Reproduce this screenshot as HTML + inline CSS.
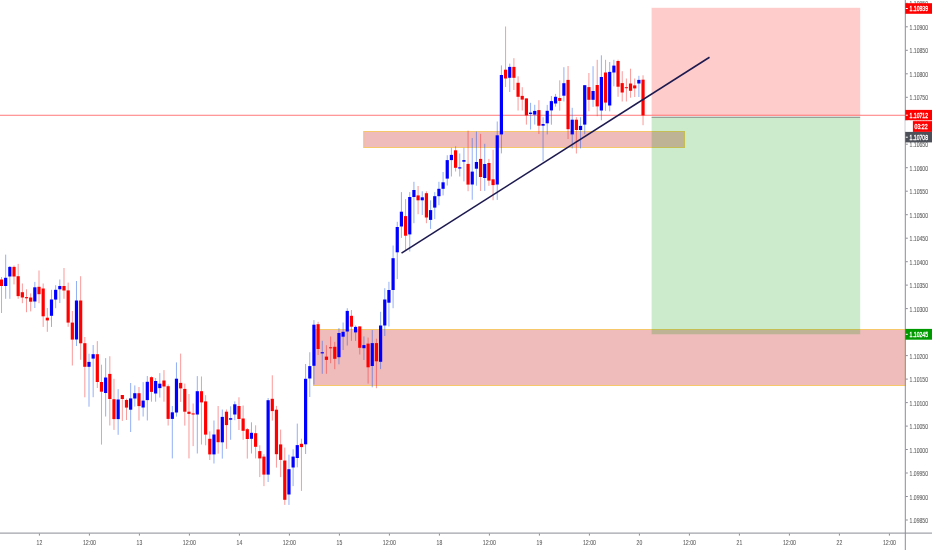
<!DOCTYPE html><html><head><meta charset="utf-8"><style>html,body{margin:0;padding:0;background:#fff;width:932px;height:550px;overflow:hidden}svg{display:block;will-change:transform}text{font-family:"Liberation Sans",sans-serif;stroke-width:0.12px}</style></head><body>
<svg width="932" height="550" viewBox="0 0 932 550">
<rect x="0" y="0" width="932" height="550" fill="#fff"/>
<rect x="313.5" y="329.5" width="591.8" height="56" fill="rgba(200,20,20,0.29)" stroke="#f7c86a" stroke-width="1"/>
<rect x="363.7" y="131.5" width="320.8" height="16" fill="rgba(200,20,20,0.29)" stroke="#f7c86a" stroke-width="1"/>
<rect x="651.6" y="7.8" width="208.6" height="107.6" fill="rgba(255,0,0,0.2)"/>
<rect x="651.6" y="117.8" width="208.6" height="216.5" fill="rgba(0,150,0,0.2)"/>
<rect x="651.6" y="116.7" width="208.6" height="1.1" fill="#7f8a80"/>
<rect x="0" y="114.7" width="905.3" height="1.3" fill="rgba(255,50,50,0.5)"/>
<rect x="1.01" y="277.0" width="1" height="36.0" fill="rgba(245,30,30,0.45)"/>
<rect x="-0.09" y="279.5" width="3.2" height="6.5" fill="#ff0000"/>
<rect x="5.17" y="254.6" width="1" height="44.2" fill="rgba(30,90,235,0.48)"/>
<rect x="4.07" y="277.8" width="3.2" height="8.2" fill="#0000ff"/>
<rect x="9.34" y="266.0" width="1" height="32.8" fill="rgba(30,90,235,0.48)"/>
<rect x="8.24" y="266.9" width="3.2" height="9.6" fill="#0000ff"/>
<rect x="13.51" y="265.5" width="1" height="18.9" fill="rgba(245,30,30,0.45)"/>
<rect x="12.41" y="266.9" width="3.2" height="9.6" fill="#ff0000"/>
<rect x="17.67" y="263.9" width="1" height="34.9" fill="rgba(245,30,30,0.45)"/>
<rect x="16.57" y="276.2" width="3.2" height="19.9" fill="#ff0000"/>
<rect x="21.84" y="283.5" width="1" height="19.7" fill="rgba(245,30,30,0.45)"/>
<rect x="20.74" y="292.2" width="3.2" height="5.3" fill="#ff0000"/>
<rect x="26.00" y="289.3" width="1" height="22.9" fill="rgba(245,30,30,0.45)"/>
<rect x="24.90" y="297.1" width="3.2" height="1.2" fill="#ff0000"/>
<rect x="30.17" y="293.4" width="1" height="18.0" fill="rgba(245,30,30,0.45)"/>
<rect x="29.07" y="297.5" width="3.2" height="4.2" fill="#ff0000"/>
<rect x="34.33" y="281.9" width="1" height="26.1" fill="rgba(30,90,235,0.48)"/>
<rect x="33.23" y="287.3" width="3.2" height="14.2" fill="#0000ff"/>
<rect x="38.50" y="270.5" width="1" height="32.7" fill="rgba(245,30,30,0.45)"/>
<rect x="37.40" y="286.8" width="3.2" height="7.4" fill="#ff0000"/>
<rect x="42.67" y="283.5" width="1" height="43.4" fill="rgba(245,30,30,0.45)"/>
<rect x="41.57" y="288.5" width="3.2" height="27.8" fill="#ff0000"/>
<rect x="46.83" y="308.0" width="1" height="23.8" fill="rgba(245,30,30,0.45)"/>
<rect x="45.73" y="317.7" width="3.2" height="2.7" fill="#ff0000"/>
<rect x="51.00" y="289.8" width="1" height="37.1" fill="rgba(30,90,235,0.48)"/>
<rect x="49.90" y="299.5" width="3.2" height="16.3" fill="#0000ff"/>
<rect x="55.16" y="285.2" width="1" height="23.0" fill="rgba(30,90,235,0.48)"/>
<rect x="54.06" y="289.8" width="3.2" height="9.8" fill="#0000ff"/>
<rect x="59.33" y="279.5" width="1" height="23.5" fill="rgba(30,90,235,0.48)"/>
<rect x="58.23" y="286.0" width="3.2" height="3.3" fill="#0000ff"/>
<rect x="63.49" y="268.0" width="1" height="30.8" fill="rgba(245,30,30,0.45)"/>
<rect x="62.39" y="286.0" width="3.2" height="4.5" fill="#ff0000"/>
<rect x="67.66" y="282.6" width="1" height="44.2" fill="rgba(245,30,30,0.45)"/>
<rect x="66.56" y="290.4" width="3.2" height="32.2" fill="#ff0000"/>
<rect x="71.83" y="311.0" width="1" height="54.5" fill="rgba(245,30,30,0.45)"/>
<rect x="70.73" y="322.6" width="3.2" height="17.0" fill="#ff0000"/>
<rect x="75.99" y="281.0" width="1" height="65.0" fill="rgba(30,90,235,0.48)"/>
<rect x="74.89" y="300.5" width="3.2" height="39.0" fill="#0000ff"/>
<rect x="80.16" y="276.2" width="1" height="83.6" fill="rgba(245,30,30,0.45)"/>
<rect x="79.06" y="300.5" width="3.2" height="42.8" fill="#ff0000"/>
<rect x="84.32" y="337.0" width="1" height="60.3" fill="rgba(245,30,30,0.45)"/>
<rect x="83.22" y="343.2" width="3.2" height="23.6" fill="#ff0000"/>
<rect x="88.49" y="353.7" width="1" height="53.0" fill="rgba(30,90,235,0.48)"/>
<rect x="87.39" y="361.9" width="3.2" height="4.9" fill="#0000ff"/>
<rect x="92.66" y="345.0" width="1" height="52.2" fill="rgba(30,90,235,0.48)"/>
<rect x="91.56" y="354.2" width="3.2" height="4.4" fill="#0000ff"/>
<rect x="96.82" y="341.1" width="1" height="46.9" fill="rgba(245,30,30,0.45)"/>
<rect x="95.72" y="354.2" width="3.2" height="27.8" fill="#ff0000"/>
<rect x="100.99" y="364.7" width="1" height="79.9" fill="rgba(245,30,30,0.45)"/>
<rect x="99.89" y="382.0" width="3.2" height="9.7" fill="#ff0000"/>
<rect x="105.15" y="358.1" width="1" height="58.4" fill="rgba(30,90,235,0.48)"/>
<rect x="104.05" y="377.5" width="3.2" height="15.5" fill="#0000ff"/>
<rect x="109.32" y="356.2" width="1" height="69.3" fill="rgba(245,30,30,0.45)"/>
<rect x="108.22" y="373.9" width="3.2" height="25.1" fill="#ff0000"/>
<rect x="113.48" y="378.8" width="1" height="51.1" fill="rgba(245,30,30,0.45)"/>
<rect x="112.38" y="399.2" width="3.2" height="19.9" fill="#ff0000"/>
<rect x="117.65" y="389.1" width="1" height="45.7" fill="rgba(30,90,235,0.48)"/>
<rect x="116.55" y="399.5" width="3.2" height="19.6" fill="#0000ff"/>
<rect x="121.82" y="395.0" width="1" height="25.9" fill="rgba(245,30,30,0.45)"/>
<rect x="120.72" y="395.0" width="3.2" height="4.0" fill="#ff0000"/>
<rect x="125.98" y="398.7" width="1" height="21.3" fill="rgba(245,30,30,0.45)"/>
<rect x="124.88" y="400.0" width="3.2" height="7.6" fill="#ff0000"/>
<rect x="130.15" y="383.0" width="1" height="49.0" fill="rgba(30,90,235,0.48)"/>
<rect x="129.05" y="398.4" width="3.2" height="11.3" fill="#0000ff"/>
<rect x="134.31" y="385.4" width="1" height="21.2" fill="rgba(30,90,235,0.48)"/>
<rect x="133.21" y="393.2" width="3.2" height="5.3" fill="#0000ff"/>
<rect x="138.48" y="387.0" width="1" height="33.5" fill="rgba(245,30,30,0.45)"/>
<rect x="137.38" y="393.2" width="3.2" height="12.9" fill="#ff0000"/>
<rect x="142.64" y="382.1" width="1" height="34.4" fill="rgba(30,90,235,0.48)"/>
<rect x="141.54" y="400.6" width="3.2" height="6.9" fill="#0000ff"/>
<rect x="146.81" y="376.0" width="1" height="44.5" fill="rgba(30,90,235,0.48)"/>
<rect x="145.71" y="381.8" width="3.2" height="18.3" fill="#0000ff"/>
<rect x="150.98" y="376.4" width="1" height="25.3" fill="rgba(245,30,30,0.45)"/>
<rect x="149.88" y="377.2" width="3.2" height="14.7" fill="#ff0000"/>
<rect x="155.14" y="378.0" width="1" height="23.7" fill="rgba(30,90,235,0.48)"/>
<rect x="154.04" y="381.0" width="3.2" height="12.5" fill="#0000ff"/>
<rect x="159.31" y="373.1" width="1" height="24.5" fill="rgba(30,90,235,0.48)"/>
<rect x="158.21" y="383.7" width="3.2" height="4.4" fill="#0000ff"/>
<rect x="163.47" y="370.1" width="1" height="31.6" fill="rgba(245,30,30,0.45)"/>
<rect x="162.37" y="380.5" width="3.2" height="6.0" fill="#ff0000"/>
<rect x="167.64" y="384.5" width="1" height="41.0" fill="rgba(245,30,30,0.45)"/>
<rect x="166.54" y="386.2" width="3.2" height="32.7" fill="#ff0000"/>
<rect x="171.81" y="406.0" width="1" height="52.4" fill="rgba(30,90,235,0.48)"/>
<rect x="170.71" y="412.3" width="3.2" height="6.6" fill="#0000ff"/>
<rect x="175.97" y="362.4" width="1" height="54.2" fill="rgba(30,90,235,0.48)"/>
<rect x="174.87" y="378.7" width="3.2" height="33.8" fill="#0000ff"/>
<rect x="180.14" y="353.6" width="1" height="48.3" fill="rgba(245,30,30,0.45)"/>
<rect x="179.04" y="382.9" width="3.2" height="5.5" fill="#ff0000"/>
<rect x="184.30" y="383.6" width="1" height="42.0" fill="rgba(245,30,30,0.45)"/>
<rect x="183.20" y="388.9" width="3.2" height="22.8" fill="#ff0000"/>
<rect x="188.47" y="394.0" width="1" height="64.4" fill="rgba(245,30,30,0.45)"/>
<rect x="187.37" y="411.7" width="3.2" height="2.2" fill="#ff0000"/>
<rect x="192.63" y="403.5" width="1" height="42.6" fill="rgba(245,30,30,0.45)"/>
<rect x="191.53" y="413.4" width="3.2" height="1.1" fill="#ff0000"/>
<rect x="196.80" y="376.1" width="1" height="77.4" fill="rgba(30,90,235,0.48)"/>
<rect x="195.70" y="391.2" width="3.2" height="23.3" fill="#0000ff"/>
<rect x="200.97" y="376.5" width="1" height="68.0" fill="rgba(245,30,30,0.45)"/>
<rect x="199.87" y="391.2" width="3.2" height="11.2" fill="#ff0000"/>
<rect x="205.13" y="395.2" width="1" height="50.1" fill="rgba(245,30,30,0.45)"/>
<rect x="204.03" y="401.4" width="3.2" height="33.2" fill="#ff0000"/>
<rect x="209.30" y="431.4" width="1" height="28.6" fill="rgba(245,30,30,0.45)"/>
<rect x="208.20" y="438.8" width="3.2" height="15.6" fill="#ff0000"/>
<rect x="213.46" y="420.5" width="1" height="43.0" fill="rgba(30,90,235,0.48)"/>
<rect x="212.36" y="434.5" width="3.2" height="19.9" fill="#0000ff"/>
<rect x="217.63" y="406.0" width="1" height="47.7" fill="rgba(245,30,30,0.45)"/>
<rect x="216.53" y="429.5" width="3.2" height="12.7" fill="#ff0000"/>
<rect x="221.80" y="409.5" width="1" height="49.1" fill="rgba(30,90,235,0.48)"/>
<rect x="220.70" y="416.9" width="3.2" height="25.4" fill="#0000ff"/>
<rect x="225.96" y="409.5" width="1" height="39.3" fill="rgba(245,30,30,0.45)"/>
<rect x="224.86" y="411.7" width="3.2" height="13.4" fill="#ff0000"/>
<rect x="230.13" y="406.3" width="1" height="33.5" fill="rgba(30,90,235,0.48)"/>
<rect x="229.03" y="418.2" width="3.2" height="1.5" fill="#0000ff"/>
<rect x="234.29" y="401.4" width="1" height="18.8" fill="rgba(30,90,235,0.48)"/>
<rect x="233.19" y="404.3" width="3.2" height="10.2" fill="#0000ff"/>
<rect x="238.46" y="397.3" width="1" height="32.7" fill="rgba(245,30,30,0.45)"/>
<rect x="237.36" y="406.0" width="3.2" height="13.0" fill="#ff0000"/>
<rect x="242.62" y="405.5" width="1" height="34.3" fill="rgba(245,30,30,0.45)"/>
<rect x="241.52" y="418.5" width="3.2" height="12.3" fill="#ff0000"/>
<rect x="246.79" y="428.0" width="1" height="30.6" fill="rgba(245,30,30,0.45)"/>
<rect x="245.69" y="429.2" width="3.2" height="9.8" fill="#ff0000"/>
<rect x="250.96" y="422.3" width="1" height="31.2" fill="rgba(30,90,235,0.48)"/>
<rect x="249.86" y="432.8" width="3.2" height="6.0" fill="#0000ff"/>
<rect x="255.12" y="425.3" width="1" height="33.1" fill="rgba(245,30,30,0.45)"/>
<rect x="254.02" y="433.2" width="3.2" height="13.6" fill="#ff0000"/>
<rect x="259.29" y="445.3" width="1" height="31.8" fill="rgba(245,30,30,0.45)"/>
<rect x="258.19" y="451.1" width="3.2" height="7.3" fill="#ff0000"/>
<rect x="263.45" y="454.2" width="1" height="31.9" fill="rgba(245,30,30,0.45)"/>
<rect x="262.35" y="456.6" width="3.2" height="18.0" fill="#ff0000"/>
<rect x="267.62" y="398.0" width="1" height="84.0" fill="rgba(30,90,235,0.48)"/>
<rect x="266.52" y="400.2" width="3.2" height="74.4" fill="#0000ff"/>
<rect x="271.78" y="375.3" width="1" height="45.3" fill="rgba(245,30,30,0.45)"/>
<rect x="270.68" y="398.8" width="3.2" height="12.3" fill="#ff0000"/>
<rect x="275.95" y="405.9" width="1" height="61.7" fill="rgba(245,30,30,0.45)"/>
<rect x="274.85" y="409.7" width="3.2" height="44.5" fill="#ff0000"/>
<rect x="280.12" y="429.6" width="1" height="47.5" fill="rgba(245,30,30,0.45)"/>
<rect x="279.02" y="444.4" width="3.2" height="15.5" fill="#ff0000"/>
<rect x="284.28" y="447.6" width="1" height="57.3" fill="rgba(245,30,30,0.45)"/>
<rect x="283.18" y="460.5" width="3.2" height="39.3" fill="#ff0000"/>
<rect x="288.45" y="454.7" width="1" height="50.2" fill="rgba(30,90,235,0.48)"/>
<rect x="287.35" y="469.2" width="3.2" height="25.3" fill="#0000ff"/>
<rect x="292.61" y="449.3" width="1" height="36.8" fill="rgba(30,90,235,0.48)"/>
<rect x="291.51" y="456.6" width="3.2" height="10.9" fill="#0000ff"/>
<rect x="296.78" y="423.6" width="1" height="43.7" fill="rgba(30,90,235,0.48)"/>
<rect x="295.68" y="445.1" width="3.2" height="12.9" fill="#0000ff"/>
<rect x="300.95" y="438.7" width="1" height="52.2" fill="rgba(245,30,30,0.45)"/>
<rect x="299.85" y="443.8" width="3.2" height="3.3" fill="#ff0000"/>
<rect x="305.11" y="364.0" width="1" height="90.0" fill="rgba(30,90,235,0.48)"/>
<rect x="304.01" y="378.8" width="3.2" height="65.5" fill="#0000ff"/>
<rect x="309.28" y="352.2" width="1" height="44.8" fill="rgba(30,90,235,0.48)"/>
<rect x="308.18" y="366.1" width="3.2" height="12.4" fill="#0000ff"/>
<rect x="313.44" y="320.1" width="1" height="64.4" fill="rgba(30,90,235,0.48)"/>
<rect x="312.34" y="324.7" width="3.2" height="41.1" fill="#0000ff"/>
<rect x="317.61" y="321.8" width="1" height="33.2" fill="rgba(245,30,30,0.45)"/>
<rect x="316.51" y="324.2" width="3.2" height="24.8" fill="#ff0000"/>
<rect x="321.77" y="340.8" width="1" height="33.0" fill="rgba(30,90,235,0.48)"/>
<rect x="320.67" y="352.2" width="3.2" height="1.2" fill="#0000ff"/>
<rect x="325.94" y="345.2" width="1" height="28.6" fill="rgba(245,30,30,0.45)"/>
<rect x="324.84" y="356.6" width="3.2" height="3.3" fill="#ff0000"/>
<rect x="330.11" y="336.5" width="1" height="26.7" fill="rgba(245,30,30,0.45)"/>
<rect x="329.01" y="347.3" width="3.2" height="1.0" fill="#ff0000"/>
<rect x="334.27" y="341.9" width="1" height="27.3" fill="rgba(245,30,30,0.45)"/>
<rect x="333.17" y="346.8" width="3.2" height="12.0" fill="#ff0000"/>
<rect x="338.44" y="328.0" width="1" height="36.3" fill="rgba(30,90,235,0.48)"/>
<rect x="337.34" y="333.0" width="3.2" height="24.2" fill="#0000ff"/>
<rect x="342.60" y="322.5" width="1" height="27.5" fill="rgba(30,90,235,0.48)"/>
<rect x="341.50" y="331.8" width="3.2" height="4.9" fill="#0000ff"/>
<rect x="346.77" y="308.2" width="1" height="37.3" fill="rgba(30,90,235,0.48)"/>
<rect x="345.67" y="310.9" width="3.2" height="20.6" fill="#0000ff"/>
<rect x="350.94" y="310.0" width="1" height="30.9" fill="rgba(245,30,30,0.45)"/>
<rect x="349.83" y="315.8" width="3.2" height="10.9" fill="#ff0000"/>
<rect x="355.10" y="325.5" width="1" height="15.4" fill="rgba(30,90,235,0.48)"/>
<rect x="354.00" y="326.9" width="3.2" height="5.5" fill="#0000ff"/>
<rect x="359.27" y="326.4" width="1" height="28.1" fill="rgba(245,30,30,0.45)"/>
<rect x="358.17" y="326.4" width="3.2" height="21.4" fill="#ff0000"/>
<rect x="363.43" y="336.4" width="1" height="23.6" fill="rgba(30,90,235,0.48)"/>
<rect x="362.33" y="345.1" width="3.2" height="3.1" fill="#0000ff"/>
<rect x="367.60" y="337.6" width="1" height="46.0" fill="rgba(245,30,30,0.45)"/>
<rect x="366.50" y="343.6" width="3.2" height="23.7" fill="#ff0000"/>
<rect x="371.76" y="330.0" width="1" height="57.3" fill="rgba(30,90,235,0.48)"/>
<rect x="370.66" y="343.1" width="3.2" height="22.9" fill="#0000ff"/>
<rect x="375.93" y="338.7" width="1" height="49.5" fill="rgba(245,30,30,0.45)"/>
<rect x="374.83" y="343.1" width="3.2" height="18.2" fill="#ff0000"/>
<rect x="380.10" y="311.8" width="1" height="57.3" fill="rgba(30,90,235,0.48)"/>
<rect x="379.00" y="325.5" width="3.2" height="36.3" fill="#0000ff"/>
<rect x="384.26" y="288.2" width="1" height="47.8" fill="rgba(30,90,235,0.48)"/>
<rect x="383.16" y="299.5" width="3.2" height="26.0" fill="#0000ff"/>
<rect x="388.43" y="281.8" width="1" height="44.7" fill="rgba(30,90,235,0.48)"/>
<rect x="387.33" y="290.0" width="3.2" height="12.7" fill="#0000ff"/>
<rect x="392.59" y="245.5" width="1" height="62.7" fill="rgba(30,90,235,0.48)"/>
<rect x="391.49" y="258.2" width="3.2" height="31.8" fill="#0000ff"/>
<rect x="396.76" y="221.8" width="1" height="57.3" fill="rgba(30,90,235,0.48)"/>
<rect x="395.66" y="227.0" width="3.2" height="25.3" fill="#0000ff"/>
<rect x="400.92" y="192.1" width="1" height="45.8" fill="rgba(30,90,235,0.48)"/>
<rect x="399.82" y="211.7" width="3.2" height="14.8" fill="#0000ff"/>
<rect x="405.09" y="199.1" width="1" height="51.9" fill="rgba(245,30,30,0.45)"/>
<rect x="403.99" y="216.1" width="3.2" height="19.6" fill="#ff0000"/>
<rect x="409.26" y="192.1" width="1" height="59.4" fill="rgba(30,90,235,0.48)"/>
<rect x="408.16" y="197.0" width="3.2" height="37.4" fill="#0000ff"/>
<rect x="413.42" y="181.8" width="1" height="41.4" fill="rgba(30,90,235,0.48)"/>
<rect x="412.32" y="190.0" width="3.2" height="7.0" fill="#0000ff"/>
<rect x="417.59" y="186.0" width="1" height="28.2" fill="rgba(245,30,30,0.45)"/>
<rect x="416.49" y="195.4" width="3.2" height="4.9" fill="#ff0000"/>
<rect x="421.75" y="191.3" width="1" height="23.7" fill="rgba(30,90,235,0.48)"/>
<rect x="420.65" y="197.3" width="3.2" height="3.0" fill="#0000ff"/>
<rect x="425.92" y="191.3" width="1" height="31.9" fill="rgba(245,30,30,0.45)"/>
<rect x="424.82" y="193.2" width="3.2" height="24.3" fill="#ff0000"/>
<rect x="430.09" y="200.3" width="1" height="28.6" fill="rgba(30,90,235,0.48)"/>
<rect x="428.99" y="210.1" width="3.2" height="9.8" fill="#0000ff"/>
<rect x="434.25" y="192.1" width="1" height="27.0" fill="rgba(30,90,235,0.48)"/>
<rect x="433.15" y="196.2" width="3.2" height="11.4" fill="#0000ff"/>
<rect x="438.42" y="181.8" width="1" height="23.4" fill="rgba(30,90,235,0.48)"/>
<rect x="437.32" y="188.8" width="3.2" height="7.4" fill="#0000ff"/>
<rect x="442.58" y="172.0" width="1" height="23.4" fill="rgba(30,90,235,0.48)"/>
<rect x="441.48" y="182.3" width="3.2" height="6.5" fill="#0000ff"/>
<rect x="446.75" y="155.2" width="1" height="30.3" fill="rgba(30,90,235,0.48)"/>
<rect x="445.65" y="160.1" width="3.2" height="18.5" fill="#0000ff"/>
<rect x="450.91" y="147.8" width="1" height="28.7" fill="rgba(30,90,235,0.48)"/>
<rect x="449.81" y="154.9" width="3.2" height="5.2" fill="#0000ff"/>
<rect x="455.08" y="146.2" width="1" height="25.3" fill="rgba(245,30,30,0.45)"/>
<rect x="453.98" y="150.3" width="3.2" height="17.5" fill="#ff0000"/>
<rect x="459.25" y="153.5" width="1" height="23.0" fill="rgba(30,90,235,0.48)"/>
<rect x="458.15" y="167.3" width="3.2" height="1.2" fill="#0000ff"/>
<rect x="463.41" y="147.8" width="1" height="33.6" fill="rgba(30,90,235,0.48)"/>
<rect x="462.31" y="160.1" width="3.2" height="1.6" fill="#0000ff"/>
<rect x="467.58" y="130.6" width="1" height="60.6" fill="rgba(245,30,30,0.45)"/>
<rect x="466.48" y="163.9" width="3.2" height="20.7" fill="#ff0000"/>
<rect x="471.74" y="138.0" width="1" height="61.8" fill="rgba(30,90,235,0.48)"/>
<rect x="470.64" y="171.6" width="3.2" height="12.9" fill="#0000ff"/>
<rect x="475.91" y="131.5" width="1" height="54.2" fill="rgba(30,90,235,0.48)"/>
<rect x="474.81" y="162.0" width="3.2" height="6.7" fill="#0000ff"/>
<rect x="480.07" y="133.9" width="1" height="57.1" fill="rgba(245,30,30,0.45)"/>
<rect x="478.97" y="158.9" width="3.2" height="18.1" fill="#ff0000"/>
<rect x="484.24" y="143.8" width="1" height="47.1" fill="rgba(30,90,235,0.48)"/>
<rect x="483.14" y="164.0" width="3.2" height="14.0" fill="#0000ff"/>
<rect x="488.41" y="158.9" width="1" height="26.9" fill="rgba(245,30,30,0.45)"/>
<rect x="487.31" y="163.0" width="3.2" height="17.6" fill="#ff0000"/>
<rect x="492.57" y="149.8" width="1" height="50.4" fill="rgba(245,30,30,0.45)"/>
<rect x="491.47" y="179.3" width="3.2" height="5.8" fill="#ff0000"/>
<rect x="496.74" y="121.5" width="1" height="78.4" fill="rgba(30,90,235,0.48)"/>
<rect x="495.64" y="135.3" width="3.2" height="49.2" fill="#0000ff"/>
<rect x="500.90" y="65.4" width="1" height="88.0" fill="rgba(30,90,235,0.48)"/>
<rect x="499.80" y="75.0" width="3.2" height="59.4" fill="#0000ff"/>
<rect x="505.07" y="26.5" width="1" height="60.5" fill="rgba(245,30,30,0.45)"/>
<rect x="503.97" y="69.7" width="3.2" height="8.8" fill="#ff0000"/>
<rect x="509.24" y="63.6" width="1" height="28.4" fill="rgba(30,90,235,0.48)"/>
<rect x="508.14" y="66.9" width="3.2" height="10.9" fill="#0000ff"/>
<rect x="513.40" y="58.2" width="1" height="31.8" fill="rgba(245,30,30,0.45)"/>
<rect x="512.30" y="66.9" width="3.2" height="10.9" fill="#ff0000"/>
<rect x="517.57" y="76.3" width="1" height="34.2" fill="rgba(245,30,30,0.45)"/>
<rect x="516.47" y="82.8" width="3.2" height="14.0" fill="#ff0000"/>
<rect x="521.73" y="87.2" width="1" height="23.3" fill="rgba(245,30,30,0.45)"/>
<rect x="520.63" y="95.9" width="3.2" height="3.7" fill="#ff0000"/>
<rect x="525.90" y="98.5" width="1" height="26.1" fill="rgba(245,30,30,0.45)"/>
<rect x="524.80" y="98.4" width="3.2" height="17.0" fill="#ff0000"/>
<rect x="530.06" y="102.8" width="1" height="26.7" fill="rgba(30,90,235,0.48)"/>
<rect x="528.96" y="112.6" width="3.2" height="1.4" fill="#0000ff"/>
<rect x="534.23" y="104.8" width="1" height="19.7" fill="rgba(30,90,235,0.48)"/>
<rect x="533.13" y="110.9" width="3.2" height="3.7" fill="#0000ff"/>
<rect x="538.40" y="100.2" width="1" height="33.8" fill="rgba(245,30,30,0.45)"/>
<rect x="537.30" y="110.1" width="3.2" height="15.6" fill="#ff0000"/>
<rect x="542.56" y="117.2" width="1" height="44.0" fill="rgba(30,90,235,0.48)"/>
<rect x="541.46" y="124.0" width="3.2" height="1.7" fill="#0000ff"/>
<rect x="546.73" y="104.9" width="1" height="29.5" fill="rgba(30,90,235,0.48)"/>
<rect x="545.63" y="110.8" width="3.2" height="12.5" fill="#0000ff"/>
<rect x="550.89" y="96.0" width="1" height="28.7" fill="rgba(30,90,235,0.48)"/>
<rect x="549.79" y="101.1" width="3.2" height="9.3" fill="#0000ff"/>
<rect x="555.06" y="93.9" width="1" height="12.7" fill="rgba(30,90,235,0.48)"/>
<rect x="553.96" y="96.8" width="3.2" height="6.7" fill="#0000ff"/>
<rect x="559.23" y="80.3" width="1" height="30.4" fill="rgba(245,30,30,0.45)"/>
<rect x="558.12" y="98.0" width="3.2" height="2.9" fill="#ff0000"/>
<rect x="563.39" y="67.2" width="1" height="34.3" fill="rgba(30,90,235,0.48)"/>
<rect x="562.29" y="83.2" width="3.2" height="12.5" fill="#0000ff"/>
<rect x="567.56" y="66.0" width="1" height="73.0" fill="rgba(245,30,30,0.45)"/>
<rect x="566.46" y="79.9" width="3.2" height="49.3" fill="#ff0000"/>
<rect x="571.72" y="107.8" width="1" height="40.6" fill="rgba(30,90,235,0.48)"/>
<rect x="570.62" y="119.7" width="3.2" height="14.7" fill="#0000ff"/>
<rect x="575.89" y="117.2" width="1" height="36.3" fill="rgba(245,30,30,0.45)"/>
<rect x="574.79" y="119.7" width="3.2" height="10.3" fill="#ff0000"/>
<rect x="580.05" y="117.2" width="1" height="31.2" fill="rgba(30,90,235,0.48)"/>
<rect x="578.95" y="125.9" width="3.2" height="4.1" fill="#0000ff"/>
<rect x="584.22" y="85.0" width="1" height="49.2" fill="rgba(30,90,235,0.48)"/>
<rect x="583.12" y="85.2" width="3.2" height="39.4" fill="#0000ff"/>
<rect x="588.39" y="73.0" width="1" height="38.3" fill="rgba(245,30,30,0.45)"/>
<rect x="587.29" y="87.1" width="3.2" height="12.7" fill="#ff0000"/>
<rect x="592.55" y="66.2" width="1" height="40.7" fill="rgba(30,90,235,0.48)"/>
<rect x="591.45" y="91.0" width="3.2" height="8.8" fill="#0000ff"/>
<rect x="596.72" y="59.8" width="1" height="56.4" fill="rgba(245,30,30,0.45)"/>
<rect x="595.62" y="85.0" width="3.2" height="21.4" fill="#ff0000"/>
<rect x="600.88" y="55.3" width="1" height="65.0" fill="rgba(30,90,235,0.48)"/>
<rect x="599.78" y="77.0" width="3.2" height="33.5" fill="#0000ff"/>
<rect x="605.05" y="59.8" width="1" height="51.1" fill="rgba(245,30,30,0.45)"/>
<rect x="603.95" y="72.5" width="3.2" height="30.1" fill="#ff0000"/>
<rect x="609.21" y="62.0" width="1" height="49.3" fill="rgba(30,90,235,0.48)"/>
<rect x="608.11" y="71.9" width="3.2" height="33.6" fill="#0000ff"/>
<rect x="613.38" y="59.8" width="1" height="26.5" fill="rgba(30,90,235,0.48)"/>
<rect x="612.28" y="65.6" width="3.2" height="6.9" fill="#0000ff"/>
<rect x="617.55" y="59.7" width="1" height="37.1" fill="rgba(245,30,30,0.45)"/>
<rect x="616.45" y="61.0" width="3.2" height="25.7" fill="#ff0000"/>
<rect x="621.71" y="71.2" width="1" height="30.3" fill="rgba(245,30,30,0.45)"/>
<rect x="620.61" y="83.1" width="3.2" height="9.4" fill="#ff0000"/>
<rect x="625.88" y="78.5" width="1" height="23.0" fill="rgba(245,30,30,0.45)"/>
<rect x="624.78" y="87.2" width="3.2" height="1.0" fill="#ff0000"/>
<rect x="630.04" y="68.7" width="1" height="29.0" fill="rgba(245,30,30,0.45)"/>
<rect x="628.94" y="83.5" width="3.2" height="7.3" fill="#ff0000"/>
<rect x="634.21" y="78.5" width="1" height="18.5" fill="rgba(245,30,30,0.45)"/>
<rect x="633.11" y="85.4" width="3.2" height="3.0" fill="#ff0000"/>
<rect x="638.38" y="75.8" width="1" height="21.2" fill="rgba(30,90,235,0.48)"/>
<rect x="637.28" y="79.9" width="3.2" height="3.6" fill="#0000ff"/>
<rect x="642.54" y="75.3" width="1" height="49.9" fill="rgba(245,30,30,0.45)"/>
<rect x="641.44" y="79.7" width="3.2" height="35.7" fill="#ff0000"/>
<line x1="401.5" y1="253.1" x2="709.5" y2="57.3" stroke="#1d1a50" stroke-width="1.6"/>
<rect x="904.8" y="0" width="1" height="550" fill="#8a8d96"/>
<rect x="0" y="532.6" width="932" height="1" fill="#8a8d96"/>
<rect x="905.8" y="2.8" width="2" height="1" fill="#8a8d96"/>
<text x="909.6" y="6.3" font-size="7.5" textLength="18.4" lengthAdjust="spacingAndGlyphs" fill="#666666" stroke="#666666">1.10950</text>
<rect x="905.8" y="26.3" width="2" height="1" fill="#8a8d96"/>
<text x="909.6" y="29.8" font-size="7.5" textLength="18.4" lengthAdjust="spacingAndGlyphs" fill="#666666" stroke="#666666">1.10900</text>
<rect x="905.8" y="49.8" width="2" height="1" fill="#8a8d96"/>
<text x="909.6" y="53.3" font-size="7.5" textLength="18.4" lengthAdjust="spacingAndGlyphs" fill="#666666" stroke="#666666">1.10850</text>
<rect x="905.8" y="73.3" width="2" height="1" fill="#8a8d96"/>
<text x="909.6" y="76.8" font-size="7.5" textLength="18.4" lengthAdjust="spacingAndGlyphs" fill="#666666" stroke="#666666">1.10800</text>
<rect x="905.8" y="96.8" width="2" height="1" fill="#8a8d96"/>
<text x="909.6" y="100.3" font-size="7.5" textLength="18.4" lengthAdjust="spacingAndGlyphs" fill="#666666" stroke="#666666">1.10750</text>
<rect x="905.8" y="120.2" width="2" height="1" fill="#8a8d96"/>
<text x="909.6" y="123.7" font-size="7.5" textLength="18.4" lengthAdjust="spacingAndGlyphs" fill="#666666" stroke="#666666">1.10700</text>
<rect x="905.8" y="143.7" width="2" height="1" fill="#8a8d96"/>
<text x="909.6" y="147.2" font-size="7.5" textLength="18.4" lengthAdjust="spacingAndGlyphs" fill="#666666" stroke="#666666">1.10650</text>
<rect x="905.8" y="167.2" width="2" height="1" fill="#8a8d96"/>
<text x="909.6" y="170.7" font-size="7.5" textLength="18.4" lengthAdjust="spacingAndGlyphs" fill="#666666" stroke="#666666">1.10600</text>
<rect x="905.8" y="190.7" width="2" height="1" fill="#8a8d96"/>
<text x="909.6" y="194.2" font-size="7.5" textLength="18.4" lengthAdjust="spacingAndGlyphs" fill="#666666" stroke="#666666">1.10550</text>
<rect x="905.8" y="214.2" width="2" height="1" fill="#8a8d96"/>
<text x="909.6" y="217.7" font-size="7.5" textLength="18.4" lengthAdjust="spacingAndGlyphs" fill="#666666" stroke="#666666">1.10500</text>
<rect x="905.8" y="237.7" width="2" height="1" fill="#8a8d96"/>
<text x="909.6" y="241.2" font-size="7.5" textLength="18.4" lengthAdjust="spacingAndGlyphs" fill="#666666" stroke="#666666">1.10450</text>
<rect x="905.8" y="261.2" width="2" height="1" fill="#8a8d96"/>
<text x="909.6" y="264.7" font-size="7.5" textLength="18.4" lengthAdjust="spacingAndGlyphs" fill="#666666" stroke="#666666">1.10400</text>
<rect x="905.8" y="284.6" width="2" height="1" fill="#8a8d96"/>
<text x="909.6" y="288.1" font-size="7.5" textLength="18.4" lengthAdjust="spacingAndGlyphs" fill="#666666" stroke="#666666">1.10350</text>
<rect x="905.8" y="308.1" width="2" height="1" fill="#8a8d96"/>
<text x="909.6" y="311.6" font-size="7.5" textLength="18.4" lengthAdjust="spacingAndGlyphs" fill="#666666" stroke="#666666">1.10300</text>
<rect x="905.8" y="331.6" width="2" height="1" fill="#8a8d96"/>
<text x="909.6" y="335.1" font-size="7.5" textLength="18.4" lengthAdjust="spacingAndGlyphs" fill="#666666" stroke="#666666">1.10250</text>
<rect x="905.8" y="355.1" width="2" height="1" fill="#8a8d96"/>
<text x="909.6" y="358.6" font-size="7.5" textLength="18.4" lengthAdjust="spacingAndGlyphs" fill="#666666" stroke="#666666">1.10200</text>
<rect x="905.8" y="378.6" width="2" height="1" fill="#8a8d96"/>
<text x="909.6" y="382.1" font-size="7.5" textLength="18.4" lengthAdjust="spacingAndGlyphs" fill="#666666" stroke="#666666">1.10150</text>
<rect x="905.8" y="402.1" width="2" height="1" fill="#8a8d96"/>
<text x="909.6" y="405.6" font-size="7.5" textLength="18.4" lengthAdjust="spacingAndGlyphs" fill="#666666" stroke="#666666">1.10100</text>
<rect x="905.8" y="425.6" width="2" height="1" fill="#8a8d96"/>
<text x="909.6" y="429.1" font-size="7.5" textLength="18.4" lengthAdjust="spacingAndGlyphs" fill="#666666" stroke="#666666">1.10050</text>
<rect x="905.8" y="449.0" width="2" height="1" fill="#8a8d96"/>
<text x="909.6" y="452.5" font-size="7.5" textLength="18.4" lengthAdjust="spacingAndGlyphs" fill="#666666" stroke="#666666">1.10000</text>
<rect x="905.8" y="472.5" width="2" height="1" fill="#8a8d96"/>
<text x="909.6" y="476.0" font-size="7.5" textLength="18.4" lengthAdjust="spacingAndGlyphs" fill="#666666" stroke="#666666">1.09950</text>
<rect x="905.8" y="496.0" width="2" height="1" fill="#8a8d96"/>
<text x="909.6" y="499.5" font-size="7.5" textLength="18.4" lengthAdjust="spacingAndGlyphs" fill="#666666" stroke="#666666">1.09900</text>
<rect x="905.8" y="519.5" width="2" height="1" fill="#8a8d96"/>
<text x="909.6" y="523.0" font-size="7.5" textLength="18.4" lengthAdjust="spacingAndGlyphs" fill="#666666" stroke="#666666">1.09850</text>
<rect x="38.9" y="533.6" width="1" height="2" fill="#8a8d96"/>
<text x="36.6" y="545.0" font-size="7" textLength="5.6" lengthAdjust="spacingAndGlyphs" fill="#666666" stroke="#666666">12</text>
<rect x="88.9" y="533.6" width="1" height="2" fill="#8a8d96"/>
<text x="82.9" y="545.0" font-size="7" textLength="13.1" lengthAdjust="spacingAndGlyphs" fill="#666666" stroke="#666666">12:00</text>
<rect x="138.9" y="533.6" width="1" height="2" fill="#8a8d96"/>
<text x="136.6" y="545.0" font-size="7" textLength="5.6" lengthAdjust="spacingAndGlyphs" fill="#666666" stroke="#666666">13</text>
<rect x="188.9" y="533.6" width="1" height="2" fill="#8a8d96"/>
<text x="182.8" y="545.0" font-size="7" textLength="13.1" lengthAdjust="spacingAndGlyphs" fill="#666666" stroke="#666666">12:00</text>
<rect x="238.9" y="533.6" width="1" height="2" fill="#8a8d96"/>
<text x="236.6" y="545.0" font-size="7" textLength="5.6" lengthAdjust="spacingAndGlyphs" fill="#666666" stroke="#666666">14</text>
<rect x="288.9" y="533.6" width="1" height="2" fill="#8a8d96"/>
<text x="282.8" y="545.0" font-size="7" textLength="13.1" lengthAdjust="spacingAndGlyphs" fill="#666666" stroke="#666666">12:00</text>
<rect x="338.9" y="533.6" width="1" height="2" fill="#8a8d96"/>
<text x="336.6" y="545.0" font-size="7" textLength="5.6" lengthAdjust="spacingAndGlyphs" fill="#666666" stroke="#666666">15</text>
<rect x="388.9" y="533.6" width="1" height="2" fill="#8a8d96"/>
<text x="382.8" y="545.0" font-size="7" textLength="13.1" lengthAdjust="spacingAndGlyphs" fill="#666666" stroke="#666666">12:00</text>
<rect x="438.9" y="533.6" width="1" height="2" fill="#8a8d96"/>
<text x="436.6" y="545.0" font-size="7" textLength="5.6" lengthAdjust="spacingAndGlyphs" fill="#666666" stroke="#666666">18</text>
<rect x="488.9" y="533.6" width="1" height="2" fill="#8a8d96"/>
<text x="482.8" y="545.0" font-size="7" textLength="13.1" lengthAdjust="spacingAndGlyphs" fill="#666666" stroke="#666666">12:00</text>
<rect x="538.9" y="533.6" width="1" height="2" fill="#8a8d96"/>
<text x="536.6" y="545.0" font-size="7" textLength="5.6" lengthAdjust="spacingAndGlyphs" fill="#666666" stroke="#666666">19</text>
<rect x="588.9" y="533.6" width="1" height="2" fill="#8a8d96"/>
<text x="582.9" y="545.0" font-size="7" textLength="13.1" lengthAdjust="spacingAndGlyphs" fill="#666666" stroke="#666666">12:00</text>
<rect x="638.9" y="533.6" width="1" height="2" fill="#8a8d96"/>
<text x="636.6" y="545.0" font-size="7" textLength="5.6" lengthAdjust="spacingAndGlyphs" fill="#666666" stroke="#666666">20</text>
<rect x="688.9" y="533.6" width="1" height="2" fill="#8a8d96"/>
<text x="682.9" y="545.0" font-size="7" textLength="13.1" lengthAdjust="spacingAndGlyphs" fill="#666666" stroke="#666666">12:00</text>
<rect x="738.9" y="533.6" width="1" height="2" fill="#8a8d96"/>
<text x="736.6" y="545.0" font-size="7" textLength="5.6" lengthAdjust="spacingAndGlyphs" fill="#666666" stroke="#666666">21</text>
<rect x="788.9" y="533.6" width="1" height="2" fill="#8a8d96"/>
<text x="782.9" y="545.0" font-size="7" textLength="13.1" lengthAdjust="spacingAndGlyphs" fill="#666666" stroke="#666666">12:00</text>
<rect x="838.9" y="533.6" width="1" height="2" fill="#8a8d96"/>
<text x="836.6" y="545.0" font-size="7" textLength="5.6" lengthAdjust="spacingAndGlyphs" fill="#666666" stroke="#666666">22</text>
<rect x="888.9" y="533.6" width="1" height="2" fill="#8a8d96"/>
<text x="882.9" y="545.0" font-size="7" textLength="13.1" lengthAdjust="spacingAndGlyphs" fill="#666666" stroke="#666666">12:00</text>
<rect x="905.3" y="3.2" width="26.700000000000045" height="10.600000000000001" fill="#ff0000"/>
<rect x="905.8" y="8.0" width="2" height="1" fill="#fff"/>
<text x="909.6" y="11.2" font-size="7.5" textLength="18.4" lengthAdjust="spacingAndGlyphs" fill="#fff" stroke="#fff" style="stroke-width:0.3px">1.10939</text>
<rect x="905.3" y="109.9" width="26.700000000000045" height="10.5" fill="#ff0000"/>
<rect x="905.8" y="114.7" width="2" height="1" fill="#fff"/>
<text x="909.6" y="117.9" font-size="7.5" textLength="18.4" lengthAdjust="spacingAndGlyphs" fill="#fff" stroke="#fff" style="stroke-width:0.3px">1.10712</text>
<rect x="905.3" y="120.4" width="26.7" height="11.5" fill="#fff"/>
<rect x="912.9" y="121.1" width="19.1" height="10.8" fill="#ff0000"/>
<rect x="912.9" y="120.4" width="19.1" height="0.9" fill="rgba(255,80,80,0.5)"/>
<text x="914.6" y="129.3" font-size="7.5" textLength="13" lengthAdjust="spacingAndGlyphs" fill="#fff" stroke="#fff" style="stroke-width:0.3px">03:22</text>
<rect x="905.3" y="131.9" width="26.700000000000045" height="10.5" fill="#4e5059"/>
<rect x="905.8" y="136.7" width="2" height="1" fill="#fff"/>
<text x="909.6" y="139.8" font-size="7.5" textLength="18.4" lengthAdjust="spacingAndGlyphs" fill="#fff" stroke="#fff" style="stroke-width:0.3px">1.10708</text>
<rect x="905.3" y="328.9" width="26.700000000000045" height="10.800000000000011" fill="#009900"/>
<rect x="905.8" y="333.8" width="2" height="1" fill="#fff"/>
<text x="909.6" y="337.0" font-size="7.5" textLength="18.4" lengthAdjust="spacingAndGlyphs" fill="#fff" stroke="#fff" style="stroke-width:0.3px">1.10245</text>
</svg></body></html>
